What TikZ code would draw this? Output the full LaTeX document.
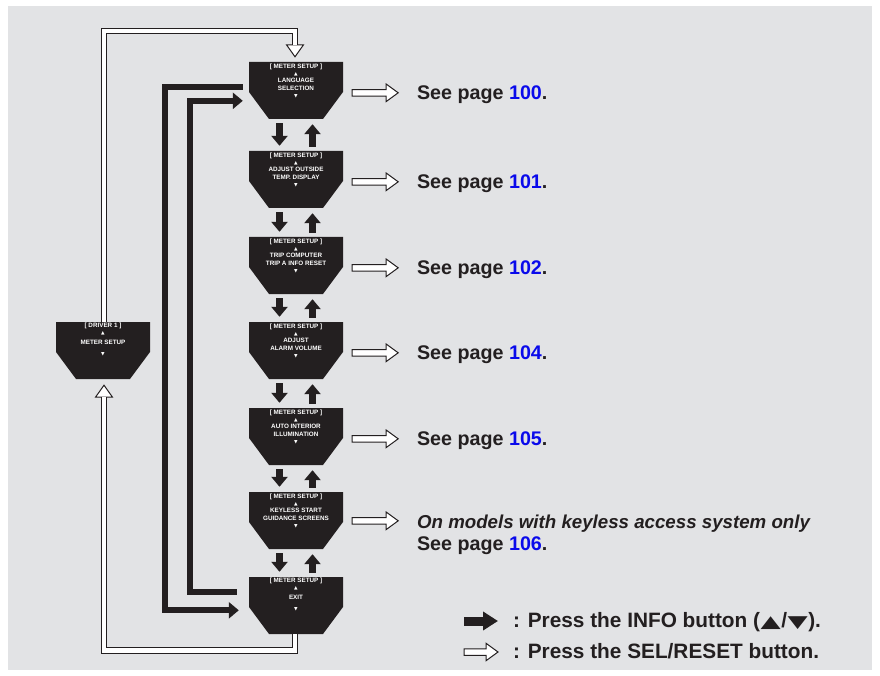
\documentclass[tikz,border=0pt]{standalone}
\usepackage{fontspec}
\usepackage{graphicx}
\setmainfont{Liberation Sans}
\newfontfamily\symfont{DejaVu Sans}
\usetikzlibrary{arrows.meta,calc}
\definecolor{bg}{HTML}{E2E3E5}
\definecolor{ink}{HTML}{231F20}
\definecolor{pgblue}{RGB}{10,10,235}
\newcommand{\tri}[1]{{\symfont\fontsize{4.6}{4}\selectfont #1}}
\newcommand{\bigtri}[1]{\kern0.5pt\scalebox{1.25}[0.8]{\symfont\fontsize{21}{24}\selectfont #1}\kern0.5pt}
\newcommand{\pbox}[4]{%
  \fill[ink] (#2-47,#3) -- (#2+47,#3) -- (#2+47,#3+30) -- (#2+27,#3+57) -- (#2-27,#3+57) -- (#2-47,#3+30) -- cycle;
  \node[paneltxt] (#1) at (#2,#3+28.5) {\parbox[c][57pt][t]{94pt}{\centering #4}};
}
\newcommand{\selarrow}[2]{% start, shaft length
  \filldraw[whead] ($(#1)+(0,-3.25)$) -- ++(#2,0) -- ++(0,-5.5) -- ++(12,8.75) -- ++(-12,8.75) -- ++(0,-5.5) -- ++(-#2,0) -- cycle;}
\newcommand{\updown}[2]{%
  \draw[blk] ($(#1.south)+(-16.5,4)$) -- ($(#2.north)+(-16.5,-5)$);
  \draw[blk] ($(#2.north)+(16.5,-4)$) -- ($(#1.south)+(16.5,5)$);}
\tikzset{
  paneltxt/.style={inner sep=0pt, minimum width=94, minimum height=57, text=white,
    font=\fontsize{6.3}{7.2}\selectfont\bfseries},
  blk/.style={draw=ink, line width=7, -{Triangle[length=10,width=16]}},
  blkL/.style={draw=ink, line width=6, line join=miter, -{Triangle[length=10,width=16]}},
  wline/.style={draw=ink, line width=1, double=white, double distance=4.5, line join=miter},
  whead/.style={fill=white, draw=ink, line width=1, line join=miter},
  seetxt/.style={anchor=base west, inner sep=0pt, text=ink, font=\fontsize{19.7}{23}\selectfont\bfseries},
  legtxt/.style={anchor=base west, inner sep=0pt, text=ink, font=\fontsize{20.8}{24}\selectfont\bfseries},
}
\begin{document}
\begin{tikzpicture}[x=1pt,y=-1pt]
\useasboundingbox (0,0) rectangle (880,676);
\fill[white] (0,0) rectangle (880,676);
\fill[bg] (8,6) rectangle (872,670);

% panels
\pbox{p1}{296}{62}{\vspace*{2pt}[ METER SETUP ]\\\tri{▲}\\LANGUAGE\\SELECTION\\\tri{▼}}
\pbox{p2}{296}{151}{\vspace*{2pt}[ METER SETUP ]\\\tri{▲}\\ADJUST OUTSIDE\\TEMP. DISPLAY\\\tri{▼}}
\pbox{p3}{296}{237}{\vspace*{2pt}[ METER SETUP ]\\\tri{▲}\\TRIP COMPUTER\\TRIP A INFO RESET\\\tri{▼}}
\pbox{p4}{296}{322}{\vspace*{2pt}[ METER SETUP ]\\\tri{▲}\\ADJUST\\ALARM VOLUME\\\tri{▼}}
\pbox{p5}{296}{408}{\vspace*{2pt}[ METER SETUP ]\\\tri{▲}\\AUTO INTERIOR\\ILLUMINATION\\\tri{▼}}
\pbox{p6}{296}{492}{\vspace*{2pt}[ METER SETUP ]\\\tri{▲}\\KEYLESS START\\GUIDANCE SCREENS\\\tri{▼}}
\pbox{p7}{296}{577}{\vspace*{1pt}[ METER SETUP ]\\\tri{▲}\\[3pt]EXIT\\[3pt]\tri{▼}}
\pbox{drv}{103}{322}{\vspace*{1pt}[ DRIVER 1 ]\\\tri{▲}\\[3pt]METER SETUP\\[3pt]\tri{▼}}

% INFO arrows between panels
\updown{p1}{p2}
\updown{p2}{p3}
\updown{p3}{p4}
\updown{p4}{p5}
\updown{p5}{p6}
\updown{p6}{p7}

% long black loops
\coordinate (a1) at ($(p1.north west)+(-6,25)$);
\coordinate (b1) at ($(p7.north west)+(-10,33.5)$);
\draw[blkL] (a1) -| ($(b1)+(-73.5,0)$) -- (b1);
\coordinate (a2) at ($(p7.north west)+(-12,15)$);
\coordinate (b2) at ($(p1.north west)+(-6,39)$);
\draw[blkL] (a2) -| ($(b2)+(-52.5,0)$) -- (b2);

% SEL/RESET loop: driver -> language
\coordinate (t1) at ($(p1.north)+(-1,-5)$);
\filldraw[whead] ($(t1)+(-8.5,-12)$) -- ($(t1)+(8.5,-12)$) -- (t1) -- cycle;
\draw[wline] ($(drv.north)+(1,0)$) |- ($(t1)+(0,-26)$) -- ($(t1)+(0,-11.4)$);
% SEL/RESET loop: exit -> driver
\coordinate (t2) at ($(drv.south)+(1,6)$);
\filldraw[whead] ($(t2)+(-8.5,12)$) -- ($(t2)+(8.5,12)$) -- (t2) -- cycle;
\draw[wline] ($(p7.south)+(-1,0)$) |- ($(t2)+(0,265.5)$) -- ($(t2)+(0,11.4)$);

% SEL arrows and page references
\selarrow{$(p1.north east)+(9,31)$}{34}
\node[seetxt] (s1) at ($(p1.north east)+(73.7,38)$) {See page \textcolor{pgblue}{100}.};
\selarrow{$(p2.north east)+(9,31)$}{34}
\node[seetxt] (s2) at ($(p2.north east)+(73.7,38)$) {See page \textcolor{pgblue}{101}.};
\selarrow{$(p3.north east)+(9,31)$}{34}
\node[seetxt] (s3) at ($(p3.north east)+(73.7,38)$) {See page \textcolor{pgblue}{102}.};
\selarrow{$(p4.north east)+(9,31)$}{34}
\node[seetxt] (s4) at ($(p4.north east)+(73.7,38)$) {See page \textcolor{pgblue}{104}.};
\selarrow{$(p5.north east)+(9,31)$}{34}
\node[seetxt] (s5) at ($(p5.north east)+(73.7,38)$) {See page \textcolor{pgblue}{105}.};
\selarrow{$(p6.north east)+(9,29)$}{34}
\node[seetxt, font=\fontsize{18.7}{22}\selectfont\bfseries\itshape] (s6a) at ($(p6.north east)+(73.7,36.5)$) {On models with keyless access system only};
\node[seetxt] (s6) at ($(p6.north east)+(73.7,59)$) {See page \textcolor{pgblue}{106}.};

% legend
\coordinate (l1) at (464,621);
\draw[draw=ink, line width=9, -{Triangle[length=15,width=18]}] (l1) -- ++(34,0);
\node[legtxt] (lt1) at (513,627) {: Press the INFO button (\bigtri{▲}/\bigtri{▼}).};
\coordinate (l2) at (464,652);
\selarrow{l2}{22}
\node[legtxt] (lt2) at (513,658) {: Press the SEL/RESET button.};
\end{tikzpicture}
\end{document}
